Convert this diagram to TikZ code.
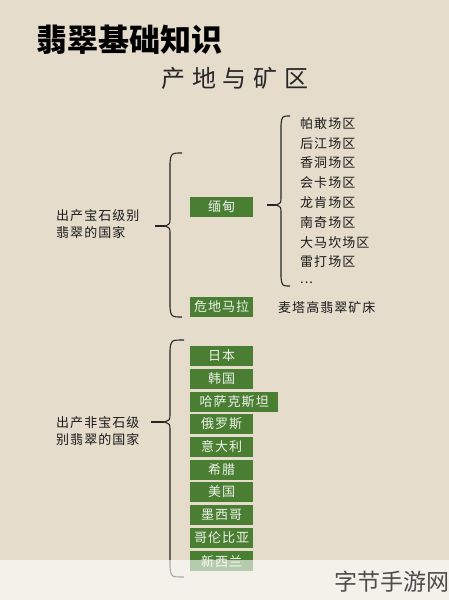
\documentclass[tikz,border=0pt]{standalone}
\usepackage{fontspec}
\setmainfont{Noto Sans CJK SC}
\newfontfamily\cjkwide[LetterSpace=8]{Noto Sans CJK SC}
\newfontfamily\cjkspread[LetterSpace=28]{Noto Sans CJK SC}
\definecolor{paper}{RGB}{229,220,204}
\definecolor{jade}{RGB}{74,126,50}

\begin{document}
\begin{tikzpicture}[x=1pt,y=-1pt,
  country/.style={fill=jade,text=white!90!jade,anchor=west,minimum width=63pt,minimum height=20pt,inner sep=0pt,font=\cjkwide\fontsize{13}{15}\selectfont},
  mine/.style={anchor=west,inner sep=0pt,text=black!90,font=\cjkwide\fontsize{13}{15}\selectfont},
  group/.style={anchor=west,inner sep=0pt,align=left,text=black!90,font=\cjkwide\fontsize{13}{17}\selectfont},
  brace/.style={draw=black!85,line width=1.1pt}]
\useasboundingbox (0,0) rectangle (449,600);
\fill[paper] (0,0) rectangle (449,600);

% titles
\node [anchor=west,inner sep=0pt,font=\bfseries\fontsize{31}{36}\selectfont] (title) at (36,40) {翡翠基础知识};
\node [inner sep=0pt,text=black!85,font=\cjkspread\fontsize{24}{28}\selectfont] (sub) at (235,78) {产地与矿区};

% gem grade
\node [group] (gem) at (56,224) {出产宝石级别\\翡翠的国家};
\coordinate (gemline) at (155,226);
\coordinate (b1tip) at (165,226);
\draw [brace] (gemline) -- (b1tip);
\draw [brace] (182,153) .. controls (171,153) .. (170,163) -- (170,218)
  .. controls (170,224) .. (b1tip) .. controls (170,228) .. (170,234)
  -- (170,307) .. controls (171,317) .. (182,317);

\node [country] (burma) at (190,207) {缅甸};
\node [country] (guat) at (190,307) {危地马拉};
\node [mine] (motagua) at (278,308) {麦塔高翡翠矿床};

\coordinate (burmaline) at (267,205);
\coordinate (b2tip) at (276,205);
\draw [brace] (burmaline) -- (b2tip);
\draw [brace] (290,116) .. controls (282,116) .. (281,125) -- (281,197)
  .. controls (281,203) .. (b2tip) .. controls (281,207) .. (281,213)
  -- (281,277) .. controls (282,286) .. (290,286);

\node [mine] (m1) at (300,124) {帕敢场区};
\node [mine] (m2) at (300,144) {后江场区};
\node [mine] (m3) at (300,163) {香洞场区};
\node [mine] (m4) at (300,183) {会卡场区};
\node [mine] (m5) at (300,203) {龙肯场区};
\node [mine] (m6) at (300,223) {南奇场区};
\node [mine] (m7) at (300,243) {大马坎场区};
\node [mine] (m8) at (300,262) {雷打场区};
\node [mine] (m9) at (300,283) {...};

% non-gem grade
\node [group] (nongem) at (56,431) {出产非宝石级\\别翡翠的国家};
\coordinate (nongemline) at (151,422);
\coordinate (b3tip) at (164,422);
\draw [brace] (nongemline) -- (b3tip);
\draw [brace] (184,340) .. controls (171,340) .. (170,350) -- (170,414)
  .. controls (170,420) .. (b3tip) .. controls (170,424) .. (170,430)
  -- (170,567) .. controls (171,577) .. (184,577);

\node [country] (jp) at (190,356) {日本};
\node [country] (kr) at (190,379) {韩国};
\node [country,minimum width=88pt] (kz) at (190,402) {哈萨克斯坦};
\node [country] (ru) at (190,424) {俄罗斯};
\node [country] (it) at (190,447) {意大利};
\node [country] (gr) at (190,470) {希腊};
\node [country] (us) at (190,492) {美国};
\node [country] (mx) at (190,515) {墨西哥};
\node [country] (co) at (190,538) {哥伦比亚};
\node [country] (nz) at (190,561) {新西兰};

% watermark band
\fill [white,opacity=0.6] (0,560) rectangle (449,600);
\node [text=black!70,font=\fontsize{23}{26}\selectfont] (mark) at (392,582) {字节手游网};
\end{tikzpicture}
\end{document}
